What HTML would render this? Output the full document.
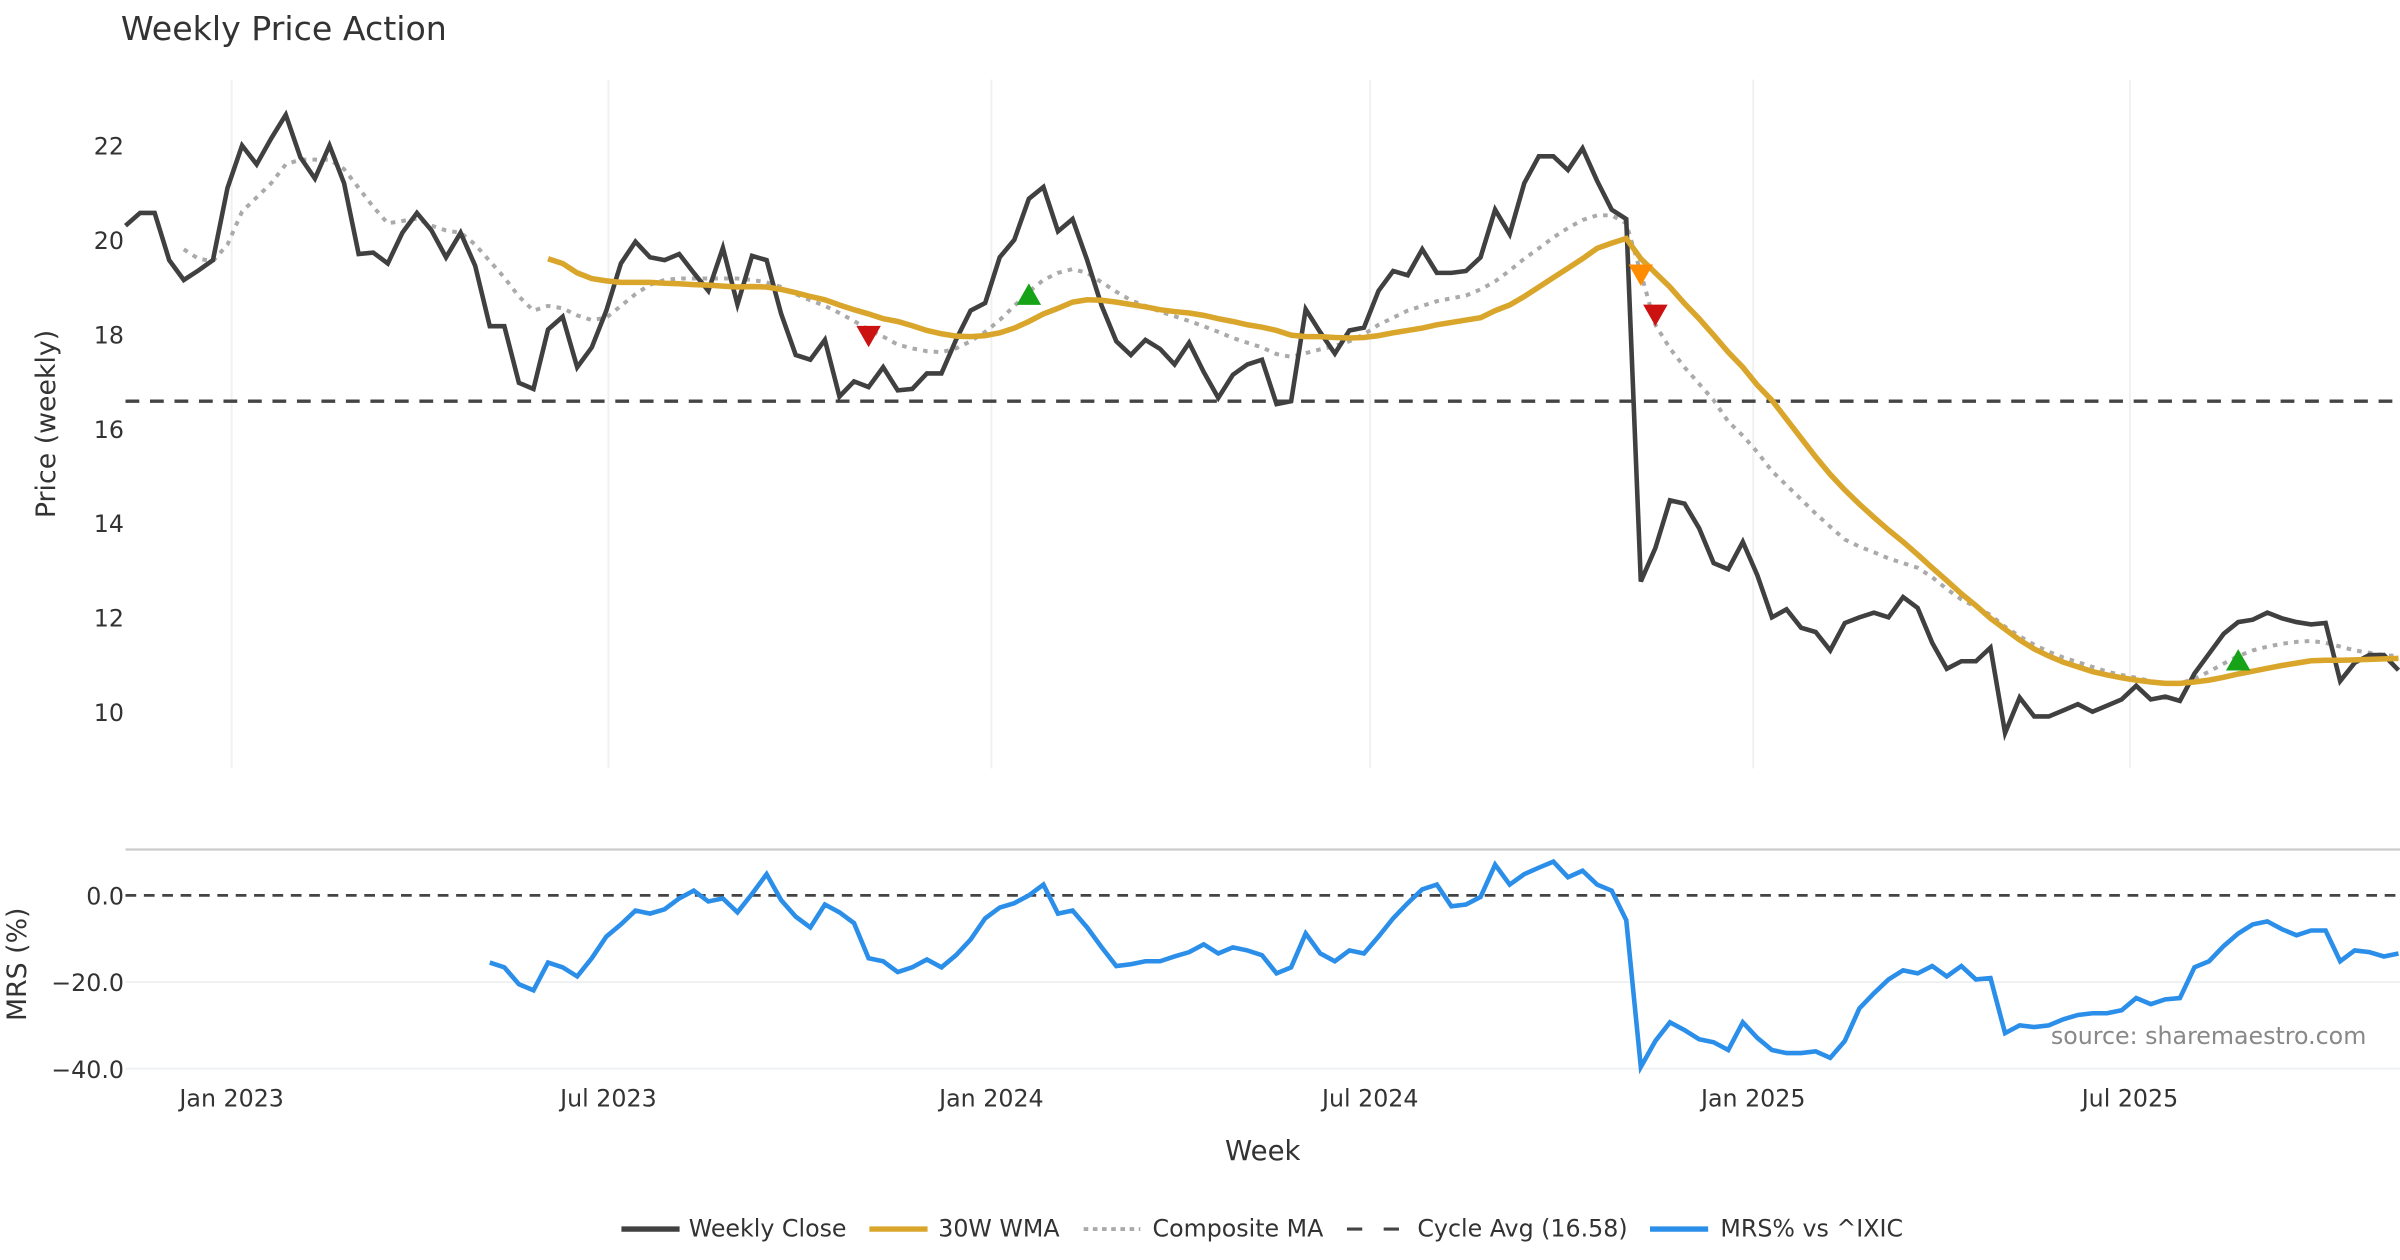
<!DOCTYPE html>
<html><head><meta charset="utf-8"><title>Weekly Price Action</title>
<style>
html,body{margin:0;padding:0;background:#fff;}
svg{display:block;font-family:"DejaVu Sans","Liberation Sans",sans-serif;}
</style></head>
<body>
<svg id="chart" width="2400" height="1260" viewBox="0 0 1568 823.2" preserveAspectRatio="none" xmlns="http://www.w3.org/2000/svg">
<rect x="0" y="0" width="1568" height="824" fill="#fff"/>
<text x="79" y="26" font-size="21.7" fill="#333">Weekly Price Action</text>
<g id="grid"></g>
<g id="price"></g>
<g id="mrs"></g>
<g id="axes"></g>
<text x="36" y="277" font-size="17.5" fill="#333" text-anchor="middle" transform="rotate(-90 36 277)">Price (weekly)</text>
<text x="17" y="630" font-size="17.5" fill="#333" text-anchor="middle" transform="rotate(-90 17 630)">MRS (%)</text>
<text x="825" y="758" font-size="18" fill="#333" text-anchor="middle">Week</text>
<text x="1546" y="682" font-size="15.5" fill="#888" text-anchor="end">source: sharemaestro.com</text>
<g font-size="15.5" fill="#333">
  <g><line x1="406" y1="803" x2="444" y2="803" stroke="#404040" stroke-width="3.5"/><text x="450" y="808">Weekly Close</text></g>
  <g><line x1="568" y1="803" x2="606" y2="803" stroke="#d9a62b" stroke-width="3.5"/><text x="613" y="808">30W WMA</text></g>
  <g><line x1="708" y1="803" x2="745" y2="803" stroke="#aaa" stroke-width="2.5" stroke-dasharray="3,3"/><text x="753" y="808">Composite MA</text></g>
  <g><line x1="880" y1="803" x2="917" y2="803" stroke="#444" stroke-width="2" stroke-dasharray="10,14"/><text x="926" y="808">Cycle Avg (16.58)</text></g>
  <g><line x1="1078" y1="803" x2="1116" y2="803" stroke="#2b8fea" stroke-width="3.5"/><text x="1124" y="808">MRS% vs ^IXIC</text></g>
</g>
</svg>
<script>
const closeVals=[20.3,20.57,20.57,19.57,19.15,19.35,19.57,21.1,22.0,21.6,22.15,22.65,21.75,21.3,22.0,21.2,19.7,19.73,19.5,20.15,20.57,20.2,19.63,20.15,19.45,18.17,18.17,16.97,16.84,18.1,18.37,17.3,17.72,18.5,19.5,19.96,19.63,19.57,19.7,19.3,18.92,19.83,18.63,19.66,19.57,18.43,17.56,17.46,17.88,16.68,17.0,16.88,17.3,16.81,16.84,17.17,17.17,17.88,18.5,18.66,19.63,20.0,20.87,21.12,20.18,20.44,19.57,18.6,17.85,17.56,17.88,17.69,17.36,17.82,17.2,16.65,17.14,17.36,17.46,16.52,16.58,18.53,18.04,17.59,18.08,18.14,18.92,19.34,19.25,19.8,19.3,19.3,19.34,19.63,20.64,20.12,21.2,21.77,21.77,21.48,21.94,21.25,20.64,20.44,12.76,13.47,14.48,14.41,13.89,13.15,13.02,13.6,12.89,12.0,12.17,11.78,11.69,11.3,11.88,12.0,12.1,12.0,12.43,12.2,11.46,10.91,11.07,11.07,11.36,9.55,10.3,9.9,9.9,10.03,10.16,10.0,10.13,10.26,10.55,10.26,10.32,10.23,10.81,11.23,11.65,11.9,11.95,12.1,11.98,11.9,11.85,11.88,10.65,11.04,11.2,11.2,10.88];
const wmaStart=29;
const wmaVals=[19.6,19.5,19.3,19.18,19.13,19.1,19.1,19.1,19.08,19.07,19.05,19.04,19.02,19.0,19.01,19.0,18.95,18.88,18.8,18.73,18.62,18.52,18.43,18.33,18.27,18.18,18.08,18.01,17.96,17.95,17.97,18.03,18.13,18.27,18.43,18.55,18.68,18.73,18.72,18.68,18.63,18.58,18.52,18.48,18.45,18.4,18.33,18.27,18.2,18.15,18.08,17.98,17.95,17.95,17.93,17.92,17.93,17.97,18.03,18.08,18.13,18.2,18.25,18.3,18.35,18.5,18.62,18.8,19.0,19.2,19.4,19.6,19.82,19.93,20.03,19.6,19.3,19.0,18.65,18.33,17.98,17.62,17.3,16.92,16.6,16.2,15.8,15.4,15.03,14.7,14.4,14.12,13.85,13.6,13.33,13.05,12.78,12.5,12.25,11.98,11.75,11.52,11.33,11.18,11.05,10.95,10.85,10.78,10.72,10.67,10.63,10.6,10.6,10.63,10.67,10.73,10.8,10.86,10.92,10.98,11.03,11.08,11.09,11.09,11.1,11.11,11.12,11.13];
const compStart=4;
const compVals=[19.8,19.6,19.55,19.9,20.6,20.9,21.2,21.6,21.7,21.7,21.7,21.5,21.1,20.7,20.35,20.4,20.45,20.3,20.2,20.15,19.9,19.55,19.2,18.8,18.5,18.6,18.55,18.4,18.3,18.35,18.6,18.85,19.05,19.15,19.18,19.18,19.18,19.18,19.18,19.15,19.1,19.0,18.85,18.72,18.6,18.45,18.28,18.1,17.95,17.78,17.7,17.64,17.62,17.7,17.85,18.05,18.3,18.6,18.9,19.15,19.3,19.38,19.3,19.1,18.9,18.72,18.6,18.48,18.38,18.28,18.17,18.05,17.92,17.82,17.72,17.58,17.52,17.6,17.68,17.75,17.85,18.0,18.2,18.35,18.5,18.6,18.7,18.76,18.82,18.95,19.12,19.35,19.6,19.82,20.05,20.25,20.42,20.52,20.52,20.35,19.3,18.2,17.7,17.3,16.95,16.6,16.15,15.85,15.5,15.1,14.8,14.5,14.2,13.92,13.65,13.5,13.38,13.25,13.15,13.05,12.85,12.6,12.38,12.22,12.05,11.8,11.6,11.42,11.27,11.15,11.05,10.95,10.85,10.78,10.72,10.65,10.6,10.6,10.7,10.85,11.02,11.18,11.3,11.38,11.44,11.48,11.5,11.46,11.38,11.3,11.25,11.2,11.18];
const mrsStart=25;
const mrsVals=[-15.5,-16.6,-20.5,-21.9,-15.5,-16.6,-18.7,-14.5,-9.5,-6.7,-3.5,-4.2,-3.2,-0.7,1.1,-1.4,-0.7,-3.9,0.35,4.9,-1.1,-4.9,-7.4,-2.1,-3.9,-6.4,-14.5,-15.2,-17.7,-16.6,-14.8,-16.6,-13.8,-10.2,-5.3,-2.8,-1.8,0,2.5,-4.2,-3.5,-7.4,-12.0,-16.3,-15.9,-15.2,-15.2,-14.1,-13.1,-11.3,-13.4,-12.0,-12.7,-13.8,-18.0,-16.6,-8.8,-13.4,-15.2,-12.7,-13.4,-9.5,-5.3,-1.8,1.4,2.5,-2.5,-2.1,-0.35,7.1,2.5,4.9,6.4,7.8,4.2,5.7,2.5,1.1,-5.7,-39.6,-33.6,-29.3,-31.1,-33.2,-33.9,-35.7,-29.3,-32.9,-35.7,-36.4,-36.4,-36.0,-37.5,-33.6,-26.1,-22.6,-19.4,-17.3,-18.0,-16.3,-18.7,-16.3,-19.4,-19.1,-31.8,-30.0,-30.4,-30.0,-28.6,-27.6,-27.2,-27.2,-26.5,-23.7,-25.1,-24.0,-23.7,-16.6,-15.2,-11.7,-8.8,-6.7,-6.0,-7.8,-9.2,-8.1,-8.1,-15.2,-12.7,-13.1,-14.1,-13.4];
const cycleAvg=16.58;
const markerIdx=[51,62,104,105,145];
const markerVals=[17.95,18.85,19.25,18.4,11.1];
const markerType=['sell','buy','warn','sell','buy'];
const priceTicks=[10,12,14,16,18,20,22];
const mrsTicks=[0,-20,-40];
const mrsTickLabels=['0.0','\u221220.0','\u221240.0'];
const xTickDays=[51,232,416,598,782,963];
const xTickLabels=['Jan 2023','Jul 2023','Jan 2024','Jul 2024','Jan 2025','Jul 2025'];

const NS='http://www.w3.org/2000/svg';
const X0=82,X1=1567,NW=closeVals.length-1;
function xs(i){return X0+i*(X1-X0)/NW;}
function yp(v){return 465-(v-10)*30.83;}
function ym(v){return 585-v*2.83;}
function mk(tag,attrs,parent){const e=document.createElementNS(NS,tag);for(const k in attrs)e.setAttribute(k,attrs[k]);parent.appendChild(e);return e;}
const grid=document.getElementById('grid'),price=document.getElementById('price'),mrs=document.getElementById('mrs'),axes=document.getElementById('axes');

xTickDays.forEach((d,k)=>{
  const x=xs(d/7);
  const g=mk('line',{x1:x,y1:52,x2:x,y2:502,stroke:'#eef0f2','stroke-width':1.2},grid);
  
  
  const t=mk('text',{x:x,y:723,'font-size':15.5,fill:'#333','text-anchor':'middle'},axes);
  t.textContent=xTickLabels[k];
  
  
});
priceTicks.forEach(v=>{
  const t=mk('text',{x:81,y:yp(v)+6,'font-size':15.5,fill:'#333','text-anchor':'end'},axes);
  t.textContent=String(v);
  
  
});
const topLine=mk('line',{x1:82,y1:555,x2:1568,y2:555,stroke:'#ccc','stroke-width':1.5},grid);


mrsTicks.forEach((v,k)=>{
  if(v!==0){const gl=mk('line',{x1:82,y1:ym(v),x2:1568,y2:ym(v),stroke:'#eef0f2','stroke-width':1.2},grid);
  
  }
  const t=mk('text',{x:81,y:ym(v)+6,'font-size':15.5,fill:'#333','text-anchor':'end'},axes);
  t.textContent=mrsTickLabels[k];
  
  
});
function path(vals,start,yf){return vals.map((v,k)=>(k?'L':'M')+xs(start+k).toFixed(2)+','+yf(v).toFixed(2)).join('');}
const cyc=mk('line',{x1:82,y1:yp(cycleAvg),x2:1568,y2:yp(cycleAvg),stroke:'#444','stroke-width':2.2,'stroke-dasharray':'9,7'},price);


const comp=mk('path',{d:path(compVals,compStart,yp),fill:'none',stroke:'#aaa','stroke-width':2.6,'stroke-dasharray':'3,4'},price);


const cl=mk('path',{d:path(closeVals,0,yp),fill:'none',stroke:'#404040','stroke-width':3,'stroke-linejoin':'miter'},price);


const wma=mk('path',{d:path(wmaVals,wmaStart,yp),fill:'none',stroke:'#d9a62b','stroke-width':3.6},price);


markerIdx.forEach((i,k)=>{
  const x=xs(i),y=yp(markerVals[k]);
  let pts,col;
  if(markerType[k]==='buy'){pts=`${x-8},${y+7} ${x+8},${y+7} ${x},${y-7}`;col='#17a317';}
  else{pts=`${x-8},${y-7} ${x+8},${y-7} ${x},${y+7}`;col=markerType[k]==='warn'?'#ff8c00':'#cc1111';}
  const m=mk('polygon',{points:pts,fill:col},price);
  
  
});
const zl=mk('line',{x1:82,y1:ym(0),x2:1568,y2:ym(0),stroke:'#444','stroke-width':1.8,'stroke-dasharray':'7,5'},mrs);


const ml=mk('path',{d:path(mrsVals,mrsStart,ym),fill:'none',stroke:'#2b8fea','stroke-width':3},mrs);


</script>
</body></html>
